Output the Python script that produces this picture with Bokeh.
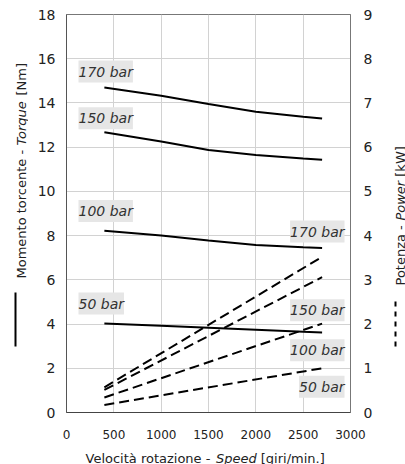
import math
from bokeh.plotting import figure
from bokeh.layouts import row, column
from bokeh.models import Range1d, LinearAxis, Label, FixedTicker
from bokeh.core.properties import value
from bokeh.embed import file_html
from bokeh.resources import INLINE

# ---------------- data ----------------
speed_torque = [400, 1000, 1500, 2000, 2500, 2700]
torque_170 = [14.7, 14.33, 13.95, 13.6, 13.38, 13.3]
torque_150 = [12.67, 12.26, 11.87, 11.65, 11.49, 11.43]
torque_100 = [8.22, 8.0, 7.78, 7.58, 7.47, 7.44]
torque_50 = [4.03, 3.92, 3.83, 3.74, 3.65, 3.62]

speed_power = [400, 2700]
power_170 = [0.57, 3.52]
power_150 = [0.51, 3.06]
power_100 = [0.34, 2.01]
power_50 = [0.17, 1.0]

pressure_labels = ["170 bar", "150 bar", "100 bar", "50 bar"]
x_ticks = [0, 500, 1000, 1500, 2000, 2500, 3000]
y_ticks = [0, 2, 4, 6, 8, 10, 12, 14, 16, 18]
y2_ticks = [0, 1, 2, 3, 4, 5, 6, 7, 8, 9]

x_title = [("Velocità rotazione - ", "normal"), ("Speed", "italic"), (" [giri/min.]", "normal")]
y_title = [("Momento torcente - ", "normal"), ("Torque", "italic"), (" [Nm]", "normal")]
y2_title = [("Potenza - ", "normal"), ("Power", "italic"), (" [kW]", "normal")]

# ---------------- layout (page pixels) ----------------
PW, PH = 405, 464
LW, RW = 28, 22            # side strips for the vertical titles
TOPH = 444                 # height of the upper row
MW = PW - LW - RW          # main figure width
FL, FT, FW, FH = 66, 14, 284, 398   # frame in page pixels
FONT = "DejaVu Sans"
TXT = "#222222"


def dx(px):
    return (px - FL) * 3000 / FW


def dy(py):
    return (FT + FH - py) * 18 / FH


p = figure(width=MW, height=TOPH, output_backend="svg", toolbar_location=None,
           title=None,
           x_range=Range1d(0, 3000), y_range=Range1d(0, 18),
           min_border_left=FL - LW, min_border_right=LW + MW - (FL + FW),
           min_border_top=FT, min_border_bottom=TOPH - FT - FH)
p.extra_y_ranges = {"power": Range1d(0, 9)}
p.background_fill_color = "white"
p.border_fill_color = "white"
p.outline_line_color = "#777777"
p.outline_line_width = 1

for ax in (p.xaxis[0], p.yaxis[0]):
    ax.major_tick_out = 0
    ax.major_tick_in = 0
    ax.minor_tick_out = 0
    ax.minor_tick_in = 0
    ax.major_label_text_font = FONT
    ax.major_label_text_color = TXT

p.xaxis.ticker = FixedTicker(ticks=x_ticks)
p.xaxis.major_label_text_font_size = "12px"
p.xaxis.major_label_standoff = 17
p.xaxis.axis_line_color = "#444444"

p.yaxis.ticker = FixedTicker(ticks=y_ticks)
p.yaxis.major_label_text_font_size = "14px"
p.yaxis.major_label_standoff = 11
p.yaxis.axis_line_color = "#555555"

ax2 = LinearAxis(y_range_name="power", ticker=FixedTicker(ticks=y2_ticks))
ax2.major_tick_out = 0
ax2.major_tick_in = 0
ax2.minor_tick_out = 0
ax2.minor_tick_in = 0
ax2.major_label_text_font = FONT
ax2.major_label_text_color = TXT
ax2.major_label_text_font_size = "14px"
ax2.major_label_standoff = 13
ax2.axis_line_color = "#777777"
p.add_layout(ax2, "right")

p.xgrid.ticker = FixedTicker(ticks=x_ticks)
p.ygrid.ticker = FixedTicker(ticks=y_ticks)
p.xgrid.grid_line_color = "#d2d2d2"
p.ygrid.grid_line_color = "#d2d2d2"

# torque curves (solid)
for t in (torque_170, torque_150, torque_100, torque_50):
    p.line(speed_torque, t, line_color="black", line_width=2)

# power curves (dashed)
for pw in (power_170, power_150, power_100, power_50):
    p.line(speed_power, pw, line_color="black", line_width=2,
           line_dash="10 5", y_range_name="power")

# pressure labels
left_y = [71, 117.8, 210.5, 303]
right_y = [231, 309.7, 349.7, 386.3]
for txt, yy in zip(pressure_labels, left_y):
    p.add_layout(Label(x=dx(78), y=dy(yy), text=txt, text_align="left",
                       text_baseline="middle", text_font=FONT,
                       text_font_style="italic", text_font_size="14px",
                       text_color="#333333", background_fill_color="#e6e6e6",
                       padding=(0, 3)))
for txt, yy in zip(pressure_labels, right_y):
    p.add_layout(Label(x=dx(344), y=dy(yy), text=txt, text_align="right",
                       text_baseline="middle", text_font=FONT,
                       text_font_style="italic", text_font_size="14px",
                       text_color="#333333", background_fill_color="#e6e6e6",
                       padding=(0, 3)))

# ---------------- title strips ----------------
WID = {' ': .318, '-': .361, '[': .390, ']': .390, '/': .337, '.': .318,
       'M': .863, 'N': .748, 'P': .603, 'S': .635, 'T': .611, 'V': .684,
       'W': .989, 'a': .613, 'à': .613, 'c': .550, 'd': .635, 'e': .615,
       'g': .635, 'i': .278, 'k': .579, 'l': .278, 'm': .974, 'n': .634,
       'o': .612, 'p': .635, 'q': .635, 'r': .411, 't': .392, 'u': .634,
       'w': .818, 'z': .525}
TS = 13


def tw(s):
    return sum(WID.get(c, 0.6) for c in s) * TS


def strip_fig(w, h, y0, y1):
    f = figure(width=w, height=h, output_backend="svg",
               toolbar_location=None, title=None,
               x_range=Range1d(0, w), y_range=Range1d(y0, y1),
               x_axis_type=None, y_axis_type=None,
               min_border=0, min_border_left=0, min_border_right=0,
               min_border_top=0, min_border_bottom=0)
    f.outline_line_color = None
    f.grid.visible = False
    f.background_fill_color = "white"
    f.border_fill_color = "white"
    return f


def put_title(f, pieces, start, base, vertical):
    pos = start
    for s, style in pieces:
        lead = len(s) - len(s.lstrip(' '))
        off = tw(s[:lead])
        st = s.strip(' ')
        if vertical:
            x, y, ang = base, pos + off, math.pi / 2
        else:
            x, y, ang = pos + off, base, 0
        pos += tw(s)
        f.text(x=[x], y=[y], text=[st], angle=ang, text_align="left",
               text_baseline="alphabetic", text_font=value(FONT),
               text_font_size=f"{TS}px", text_font_style=style,
               text_color=TXT)


# side strips: their frames line up with the main frame (page y FT..FT+FH);
# data y = TOPH - page y
SY0, SY1 = TOPH - (FT + FH), TOPH - FT

lf = strip_fig(LW, TOPH, SY0, SY1)
put_title(lf, y_title, TOPH - 278, 21, True)
lf.segment(x0=[15], y0=[TOPH - 346], x1=[15], y1=[TOPH - 292],
           line_color="black", line_width=2)

rf = strip_fig(RW, TOPH, SY0, SY1)
put_title(rf, y2_title, TOPH - 285, 400 - (LW + MW), True)
rf.segment(x0=[395 - (LW + MW)], y0=[TOPH - 346], x1=[395 - (LW + MW)],
           y1=[TOPH - 297], line_color="black", line_width=2, line_dash="5 5")

# bottom strip: page y TOPH..PH (data y = PH - page y)
bf = strip_fig(PW, PH - TOPH, 0, PH - TOPH)
put_title(bf, x_title, 85, PH - 458, False)

layout = column(row(lf, p, rf, spacing=0), bf, spacing=0)

open("out.html", "w").write(file_html(layout, INLINE))
